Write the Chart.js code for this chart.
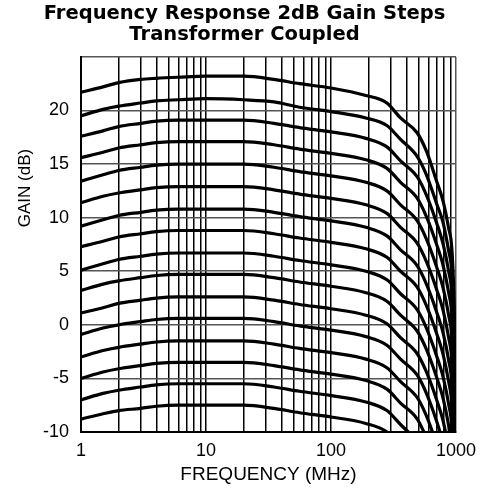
<!DOCTYPE html>
<html>
<head>
<meta charset="utf-8">
<script src="https://cdn.jsdelivr.net/npm/chart.js@4/dist/chart.umd.min.js"></script>
<style>
  html, body { margin: 0; padding: 0; background: #fff; }
  #chart { display: block; }
</style>
</head>
<body>
<canvas id="chart" width="489" height="499"></canvas>
<script>
// frequency points (MHz) the curves were read at
const FREQ = [1, 1.5, 2, 3, 4, 6, 10, 20, 35, 56, 100, 190, 280, 360, 490, 580, 700, 790, 870, 930, 970, 1000];

// gain (dB) per gain step, top curve first
const G1  = [21.7, 22.2, 22.6, 22.9, 23.0, 23.1, 23.2, 23.2, 22.9, 22.5, 22.1, 21.4, 20.7, 19.3, 17.9, 16.2, 13.4, 11.5, 9.1, 6.8, 1.0, -11];
const G2  = [19.5, 20.1, 20.4, 20.7, 20.9, 21.0, 21.1, 21.0, 20.8, 20.3, 19.9, 19.3, 18.6, 17.3, 15.7, 14.0, 11.3, 9.5, 7.0, 4.6, -1.0, -13];
const G3  = [17.6, 18.1, 18.5, 18.8, 19.0, 19.1, 19.1, 19.1, 18.8, 18.4, 18.0, 17.4, 16.6, 15.3, 13.8, 12.1, 9.5, 7.5, 5.1, 2.6, -3, -15];
const G4  = [15.6, 16.1, 16.5, 16.8, 17.0, 17.1, 17.1, 17.1, 16.8, 16.4, 16.0, 15.4, 14.6, 13.3, 11.8, 10.1, 7.5, 5.5, 3.1, 0.6, -5, -17];
const G5  = [13.4, 14.0, 14.4, 14.7, 14.9, 15.0, 15.0, 15.0, 14.7, 14.3, 13.9, 13.3, 12.5, 11.2, 9.7, 8.0, 5.4, 3.4, 1.0, -1.5, -7, -19];
const G6  = [11.4, 12.0, 12.3, 12.6, 12.8, 12.9, 12.9, 12.9, 12.6, 12.2, 11.8, 11.2, 10.4, 9.1, 7.6, 5.9, 3.3, 1.3, -1.1, -3.6, -9, -21];
const G7  = [9.2, 9.8, 10.2, 10.5, 10.7, 10.8, 10.8, 10.8, 10.5, 10.1, 9.7, 9.1, 8.3, 7.0, 5.5, 3.8, 1.2, -0.8, -3.2, -5.7, -11, -23];
const G8  = [7.3, 7.8, 8.2, 8.5, 8.7, 8.8, 8.8, 8.8, 8.5, 8.1, 7.7, 7.1, 6.3, 5.0, 3.5, 1.8, -0.8, -2.8, -5.2, -7.7, -13, -25];
const G9  = [5.1, 5.7, 6.1, 6.4, 6.6, 6.7, 6.7, 6.7, 6.4, 6.0, 5.6, 5.0, 4.2, 2.9, 1.4, -0.3, -2.9, -4.9, -7.3, -9.8, -15];
const G10 = [3.2, 3.8, 4.1, 4.4, 4.6, 4.7, 4.7, 4.7, 4.4, 4.0, 3.6, 3.0, 2.2, 0.9, -0.6, -2.3, -4.9, -6.9, -9.3, -11.8];
const G11 = [1.1, 1.6, 2.0, 2.3, 2.5, 2.6, 2.6, 2.6, 2.3, 1.9, 1.5, 0.9, 0.1, -1.2, -2.7, -4.4, -7.0, -9.0, -11.4];
const G12 = [-0.9, -0.3, 0.0, 0.3, 0.5, 0.6, 0.6, 0.6, 0.3, -0.1, -0.5, -1.1, -1.9, -3.2, -4.7, -6.4, -9.0, -11.0];
const G13 = [-3.0, -2.4, -2.1, -1.8, -1.6, -1.5, -1.5, -1.5, -1.8, -2.2, -2.6, -3.2, -4.0, -5.3, -6.8, -8.5, -11.1];
const G14 = [-5.0, -4.4, -4.1, -3.8, -3.6, -3.5, -3.5, -3.5, -3.8, -4.2, -4.6, -5.2, -6.0, -7.3, -8.8, -10.5];
const G15 = [-7.0, -6.4, -6.1, -5.8, -5.6, -5.5, -5.5, -5.5, -5.8, -6.2, -6.6, -7.2, -8.0, -9.3, -10.8];
const G16 = [-8.8, -8.3, -8.0, -7.8, -7.6, -7.5, -7.5, -7.5, -7.8, -8.2, -8.6, -9.2, -10.0, -11.4];

const CURVES = [G1, G2, G3, G4, G5, G6, G7, G8, G9, G10, G11, G12, G13, G14, G15, G16];

// axis ticks
const X_GRID = [1, 2, 3, 4, 5, 6, 7, 8, 9, 10, 20, 30, 40, 50, 60, 70, 80, 90, 100, 200, 300, 400, 500, 600, 700, 800, 900, 1000];
const X_LABELS = [1, 10, 100, 1000];
const Y_TICKS = [-10, -5, 0, 5, 10, 15, 20, 25];
const Y_LABELS = [-10, -5, 0, 5, 10, 15, 20];
const Y_TITLE = 'GAIN (dB)';

const datasets = CURVES.map((g) => ({
    data: g.map((v, i) => ({ x: FREQ[i], y: v })),
    borderColor: '#000',
    borderWidth: 3.2,
    pointRadius: 0,
    fill: false,
    cubicInterpolationMode: 'monotone',
    clip: 0
}));

// the y title sits higher than the axis middle in the original
const yTitle = {
    id: 'yTitle',
    afterDraw(chart) {
        const ctx = chart.ctx;
        ctx.save();
        ctx.translate(25, 188);
        ctx.rotate(-Math.PI / 2);
        ctx.font = '17px "Liberation Sans"';
        ctx.fillStyle = '#000';
        ctx.textAlign = 'center';
        ctx.textBaseline = 'middle';
        ctx.fillText(Y_TITLE, 0, 0);
        ctx.restore();
    }
};

new Chart(document.getElementById('chart'), {
    type: 'line',
    data: { datasets: datasets },
    plugins: [yTitle],
    options: {
        responsive: false,
        animation: false,
        layout: { padding: 0 },
        plugins: {
            legend: { display: false },
            tooltip: { enabled: false },
            title: {
                display: true,
                text: ['Frequency Response 2dB Gain Steps', 'Transformer Coupled'],
                color: '#000',
                font: { family: 'DejaVu Sans', size: 19.5, weight: 'bold', lineHeight: 1.1 },
                padding: { top: 3, bottom: 11 }
            }
        },
        scales: {
            x: {
                type: 'logarithmic',
                min: 1,
                max: 1000,
                afterBuildTicks: (s) => { s.ticks = X_GRID.map((v) => ({ value: v })); },
                afterFit: (s) => { s.height = 67; },
                ticks: {
                    autoSkip: false,
                    maxRotation: 0,
                    color: '#000',
                    padding: 8,
                    font: { family: 'Liberation Sans', size: 18 },
                    callback: (v) => X_LABELS.includes(v) ? String(v) : ''
                },
                grid: {
                    drawTicks: false,
                    color: (c) => (c.tick && c.tick.value === 1000) ? '#555' : '#000',
                    lineWidth: 1.5
                },
                border: { color: '#000', width: 2 },
                title: {
                    display: true,
                    text: 'FREQUENCY (MHz)',
                    color: '#000',
                    font: { family: 'Liberation Sans', size: 19 },
                    padding: { top: 0, bottom: 13 }
                }
            },
            y: {
                min: -10,
                max: 25,
                afterBuildTicks: (s) => { s.ticks = Y_TICKS.map((v) => ({ value: v })); },
                afterFit: (s) => { s.width = 81; },
                ticks: {
                    color: '#000',
                    padding: 12,
                    font: { family: 'Liberation Sans', size: 18 },
                    callback: (v) => Y_LABELS.includes(v) ? String(v) : ''
                },
                grid: {
                    drawTicks: false,
                    color: '#555',
                    lineWidth: 1.5
                },
                border: { color: '#000', width: 2 }
            },
            // empty right-hand axis, only keeps the margin right of the plot
            yRight: {
                position: 'right',
                display: true,
                afterFit: (s) => { s.width = 33; },
                ticks: { display: false },
                grid: { display: false, drawOnChartArea: false },
                border: { display: false }
            }
        }
    }
});
</script>
</body>
</html>
